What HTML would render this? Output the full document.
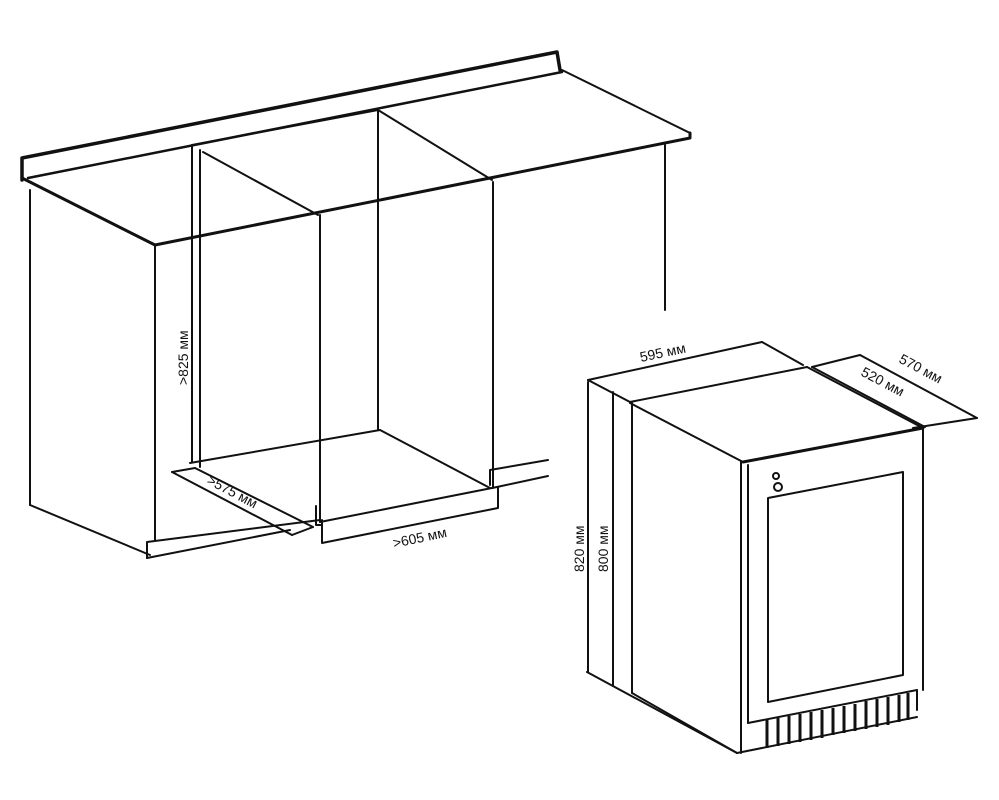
<!DOCTYPE html>
<html><head><style>
html,body{margin:0;padding:0;background:#fff;}
svg{display:block}
text{font-family:"Liberation Sans",sans-serif;font-size:14px;fill:#111}
</style></head><body>
<svg width="999" height="800" viewBox="0 0 999 800" xmlns="http://www.w3.org/2000/svg">
<g stroke="#111" stroke-width="2" fill="none" stroke-linejoin="round" stroke-linecap="round">
<!-- countertop -->
<polyline points="22,180 22,158 557,52 560,70" stroke-width="3.5"/>
<line x1="28" y1="178" x2="562" y2="72" stroke-width="2.5"/>
<line x1="562" y1="70" x2="690" y2="133"/>
<polyline points="22,178 155,245 690,138 690,133" stroke-width="3"/>
<!-- left cabinet -->
<line x1="30" y1="190" x2="30" y2="505"/>
<line x1="30" y1="505" x2="150" y2="555"/>
<line x1="155" y1="245" x2="155" y2="540"/>
<polyline points="147,558 147,542 320,520"/>
<line x1="147" y1="558" x2="290" y2="530"/>
<!-- opening -->
<line x1="192" y1="145" x2="192" y2="462"/>
<line x1="200" y1="150" x2="200" y2="467"/>
<line x1="192" y1="145" x2="378" y2="110"/>
<line x1="378" y1="110" x2="378" y2="430"/>
<line x1="203" y1="152" x2="318" y2="215"/>
<line x1="378" y1="110" x2="492" y2="180"/>
<line x1="320" y1="215" x2="320" y2="522"/>
<line x1="493" y1="182" x2="493" y2="488"/>
<line x1="190" y1="463" x2="380" y2="430"/>
<line x1="380" y1="430" x2="490" y2="488"/>
<line x1="320" y1="522" x2="497" y2="487"/>
<polyline points="322,520 322,543 498,508 498,487"/>
<polyline points="316,506 316,525 322,525"/>
<!-- right ledge -->
<polyline points="490,485 490,470 548,460"/>
<line x1="497" y1="487" x2="548" y2="476"/>
<!-- 575 dim -->
<line x1="172" y1="472" x2="292" y2="535"/>
<line x1="195" y1="468" x2="313" y2="527"/>
<line x1="172" y1="472" x2="195" y2="468"/>
<line x1="292" y1="535" x2="313" y2="527"/>
<!-- back wall line -->
<line x1="665" y1="145" x2="665" y2="310"/>
<!-- fridge dims -->
<line x1="588" y1="380" x2="762" y2="342"/>
<line x1="762" y1="342" x2="803" y2="365"/>
<line x1="588" y1="380" x2="630" y2="402"/>
<line x1="588" y1="382" x2="588" y2="672"/>
<line x1="613" y1="392" x2="613" y2="685"/>
<line x1="587" y1="672" x2="737" y2="753"/>
<line x1="812" y1="367" x2="860" y2="355"/>
<line x1="860" y1="355" x2="977" y2="418"/>
<line x1="913" y1="428" x2="977" y2="418"/>
<line x1="812" y1="367" x2="925" y2="427"/>
<!-- fridge body -->
<line x1="630" y1="402" x2="807" y2="367"/>
<line x1="807" y1="367" x2="923" y2="428"/>
<line x1="630" y1="403" x2="743" y2="462"/>
<line x1="743" y1="462" x2="923" y2="428" stroke-width="3"/>
<line x1="632" y1="403" x2="632" y2="693"/>
<line x1="632" y1="693" x2="737" y2="753"/>
<line x1="741" y1="462" x2="741" y2="753"/>
<line x1="748" y1="465" x2="748" y2="723"/>
<line x1="923" y1="428" x2="923" y2="690"/>
<line x1="917" y1="690" x2="917" y2="710"/>
<line x1="737" y1="753" x2="917" y2="717"/>
<line x1="748" y1="723" x2="917" y2="690"/>
<polygon points="768,498 903,472 903,675 768,702"/>
<circle cx="776" cy="476" r="3"/>
<circle cx="778" cy="487" r="4"/>
</g>
<!-- vents -->
<g stroke="#111" stroke-width="3">
<line x1="767" y1="720" x2="767" y2="748"/>
<line x1="778" y1="718" x2="778" y2="746"/>
<line x1="789" y1="716" x2="789" y2="744"/>
<line x1="800" y1="714" x2="800" y2="742"/>
<line x1="811" y1="712" x2="811" y2="740"/>
<line x1="822" y1="710" x2="822" y2="738"/>
<line x1="833" y1="708" x2="833" y2="735"/>
<line x1="844" y1="706" x2="844" y2="733"/>
<line x1="855" y1="704" x2="855" y2="731"/>
<line x1="866" y1="701" x2="866" y2="729"/>
<line x1="877" y1="699" x2="877" y2="727"/>
<line x1="888" y1="697" x2="888" y2="725"/>
<line x1="899" y1="695" x2="899" y2="722"/>
<line x1="908" y1="693" x2="908" y2="720"/>
</g>
<text transform="translate(188,385) rotate(-90)">&gt;825 мм</text>
<text transform="translate(206,483) rotate(28)">&gt;575 мм</text>
<text transform="translate(394,548) rotate(-12)">&gt;605 мм</text>
<text transform="translate(641,362) rotate(-12)">595 мм</text>
<text transform="translate(898,362) rotate(28)">570 мм</text>
<text transform="translate(860,375) rotate(28)">520 мм</text>
<text transform="translate(584,572) rotate(-90)">820 мм</text>
<text transform="translate(608,572) rotate(-90)">800 мм</text>
</svg>
</body></html>
